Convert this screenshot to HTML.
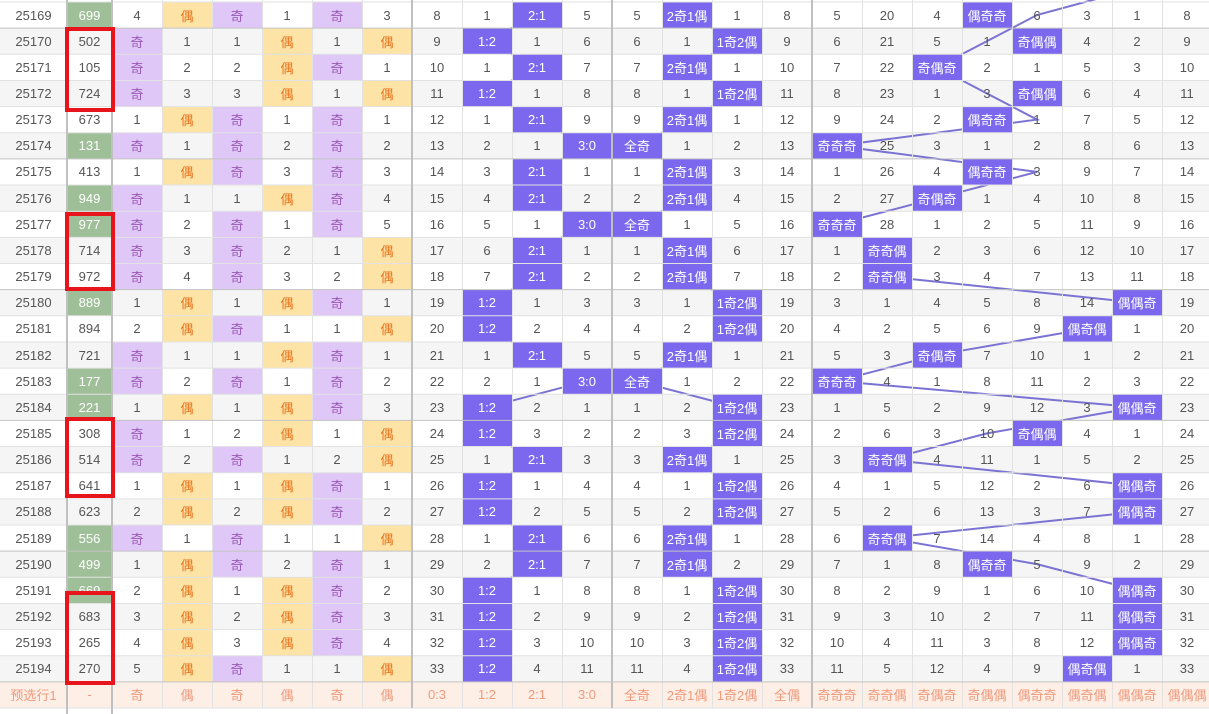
<!DOCTYPE html>
<html><head><meta charset="utf-8"><style>
html,body{margin:0;padding:0;width:1209px;height:714px;overflow:hidden;background:#fff;position:relative;font-family:"Liberation Sans","Noto Sans CJK SC",sans-serif;font-size:13px;color:#555}
.st{position:absolute;left:0;width:1212px;height:26.15px}
.r{position:absolute;left:0;height:26.15px;display:grid;grid-template-columns:67px 45px repeat(22,50px)}
.r>*{display:flex;align-items:center;justify-content:center;font-style:normal;text-decoration:none;font-weight:normal;white-space:nowrap}
.r>b{background:#7b68ee;color:#fff}
.r>u{background:#dfc7f7;color:#9b59b6}
.r>s{background:#fde3a5;color:#e8731c}
.r>.g{background:#9fbf98;color:#fff}
.f>*{color:#f09a7c}
.bx{position:absolute;left:65px;width:50px;border:4px solid #e8141c;box-sizing:border-box}
svg{position:absolute;left:0;top:0}
</style></head><body>
<div class="st" style="top:28.15px;background:#f5f5f5"></div>
<div class="st" style="top:80.45px;background:#f5f5f5"></div>
<div class="st" style="top:132.75px;background:#f5f5f5"></div>
<div class="st" style="top:185.05px;background:#f5f5f5"></div>
<div class="st" style="top:237.35px;background:#f5f5f5"></div>
<div class="st" style="top:289.65px;background:#f5f5f5"></div>
<div class="st" style="top:341.95px;background:#f5f5f5"></div>
<div class="st" style="top:394.25px;background:#f5f5f5"></div>
<div class="st" style="top:446.55px;background:#f5f5f5"></div>
<div class="st" style="top:498.85px;background:#f5f5f5"></div>
<div class="st" style="top:551.15px;background:#f5f5f5"></div>
<div class="st" style="top:603.45px;background:#f5f5f5"></div>
<div class="st" style="top:655.75px;background:#f5f5f5"></div>
<div class="st" style="top:681.9px;background:#fdeee6"></div>
<svg width="1209" height="714" fill="none" stroke="#7b73d3" stroke-width="2">
<polyline points="537,15 487,41.15 537,67.3 487,93.45 537,119.6 587,145.75 537,171.9 537,198.05 587,224.2 537,250.35 537,276.5 487,302.65 487,328.8 537,354.95 587,381.1 487,407.25 487,433.4 537,459.55 487,485.7 487,511.85 537,538 537,564.15 487,590.3 487,616.45 487,642.6 487,668.75"/>
<polyline points="687,15 737,41.15 687,67.3 737,93.45 687,119.6 637,145.75 687,171.9 687,198.05 637,224.2 687,250.35 687,276.5 737,302.65 737,328.8 687,354.95 637,381.1 737,407.25 737,433.4 687,459.55 737,485.7 737,511.85 687,538 687,564.15 737,590.3 737,616.45 737,642.6 737,668.75"/>
<polyline points="1137,-12 1037,15 987,41.15 937,67.3 987,93.45 1037,119.6 837,145.75 1037,171.9 937,198.05 837,224.2 887,250.35 887,276.5 1137,302.65 1087,328.8 937,354.95 837,381.1 1137,407.25 987,433.4 887,459.55 1137,485.7 1137,511.85 887,538 1037,564.15 1137,590.3 1137,616.45 1137,642.6 1087,668.75"/>
</svg>
<div class="r" style="top:2px"><i>25169</i><i class="g">699</i><i>4</i><s>偶</s><u>奇</u><i>1</i><u>奇</u><i>3</i><i>8</i><i>1</i><b>2:1</b><i>5</i><i>5</i><b>2奇1偶</b><i>1</i><i>8</i><i>5</i><i>20</i><i>4</i><b>偶奇奇</b><i>6</i><i>3</i><i>1</i><i>8</i></div>
<div class="r" style="top:28.15px"><i>25170</i><i>502</i><u>奇</u><i>1</i><i>1</i><s>偶</s><i>1</i><s>偶</s><i>9</i><b>1:2</b><i>1</i><i>6</i><i>6</i><i>1</i><b>1奇2偶</b><i>9</i><i>6</i><i>21</i><i>5</i><i>1</i><b>奇偶偶</b><i>4</i><i>2</i><i>9</i></div>
<div class="r" style="top:54.3px"><i>25171</i><i>105</i><u>奇</u><i>2</i><i>2</i><s>偶</s><u>奇</u><i>1</i><i>10</i><i>1</i><b>2:1</b><i>7</i><i>7</i><b>2奇1偶</b><i>1</i><i>10</i><i>7</i><i>22</i><b>奇偶奇</b><i>2</i><i>1</i><i>5</i><i>3</i><i>10</i></div>
<div class="r" style="top:80.45px"><i>25172</i><i>724</i><u>奇</u><i>3</i><i>3</i><s>偶</s><i>1</i><s>偶</s><i>11</i><b>1:2</b><i>1</i><i>8</i><i>8</i><i>1</i><b>1奇2偶</b><i>11</i><i>8</i><i>23</i><i>1</i><i>3</i><b>奇偶偶</b><i>6</i><i>4</i><i>11</i></div>
<div class="r" style="top:106.6px"><i>25173</i><i>673</i><i>1</i><s>偶</s><u>奇</u><i>1</i><u>奇</u><i>1</i><i>12</i><i>1</i><b>2:1</b><i>9</i><i>9</i><b>2奇1偶</b><i>1</i><i>12</i><i>9</i><i>24</i><i>2</i><b>偶奇奇</b><i>1</i><i>7</i><i>5</i><i>12</i></div>
<div class="r" style="top:132.75px"><i>25174</i><i class="g">131</i><u>奇</u><i>1</i><u>奇</u><i>2</i><u>奇</u><i>2</i><i>13</i><i>2</i><i>1</i><b>3:0</b><b>全奇</b><i>1</i><i>2</i><i>13</i><b>奇奇奇</b><i>25</i><i>3</i><i>1</i><i>2</i><i>8</i><i>6</i><i>13</i></div>
<div class="r" style="top:158.9px"><i>25175</i><i>413</i><i>1</i><s>偶</s><u>奇</u><i>3</i><u>奇</u><i>3</i><i>14</i><i>3</i><b>2:1</b><i>1</i><i>1</i><b>2奇1偶</b><i>3</i><i>14</i><i>1</i><i>26</i><i>4</i><b>偶奇奇</b><i>3</i><i>9</i><i>7</i><i>14</i></div>
<div class="r" style="top:185.05px"><i>25176</i><i class="g">949</i><u>奇</u><i>1</i><i>1</i><s>偶</s><u>奇</u><i>4</i><i>15</i><i>4</i><b>2:1</b><i>2</i><i>2</i><b>2奇1偶</b><i>4</i><i>15</i><i>2</i><i>27</i><b>奇偶奇</b><i>1</i><i>4</i><i>10</i><i>8</i><i>15</i></div>
<div class="r" style="top:211.2px"><i>25177</i><i class="g">977</i><u>奇</u><i>2</i><u>奇</u><i>1</i><u>奇</u><i>5</i><i>16</i><i>5</i><i>1</i><b>3:0</b><b>全奇</b><i>1</i><i>5</i><i>16</i><b>奇奇奇</b><i>28</i><i>1</i><i>2</i><i>5</i><i>11</i><i>9</i><i>16</i></div>
<div class="r" style="top:237.35px"><i>25178</i><i>714</i><u>奇</u><i>3</i><u>奇</u><i>2</i><i>1</i><s>偶</s><i>17</i><i>6</i><b>2:1</b><i>1</i><i>1</i><b>2奇1偶</b><i>6</i><i>17</i><i>1</i><b>奇奇偶</b><i>2</i><i>3</i><i>6</i><i>12</i><i>10</i><i>17</i></div>
<div class="r" style="top:263.5px"><i>25179</i><i>972</i><u>奇</u><i>4</i><u>奇</u><i>3</i><i>2</i><s>偶</s><i>18</i><i>7</i><b>2:1</b><i>2</i><i>2</i><b>2奇1偶</b><i>7</i><i>18</i><i>2</i><b>奇奇偶</b><i>3</i><i>4</i><i>7</i><i>13</i><i>11</i><i>18</i></div>
<div class="r" style="top:289.65px"><i>25180</i><i class="g">889</i><i>1</i><s>偶</s><i>1</i><s>偶</s><u>奇</u><i>1</i><i>19</i><b>1:2</b><i>1</i><i>3</i><i>3</i><i>1</i><b>1奇2偶</b><i>19</i><i>3</i><i>1</i><i>4</i><i>5</i><i>8</i><i>14</i><b>偶偶奇</b><i>19</i></div>
<div class="r" style="top:315.8px"><i>25181</i><i>894</i><i>2</i><s>偶</s><u>奇</u><i>1</i><i>1</i><s>偶</s><i>20</i><b>1:2</b><i>2</i><i>4</i><i>4</i><i>2</i><b>1奇2偶</b><i>20</i><i>4</i><i>2</i><i>5</i><i>6</i><i>9</i><b>偶奇偶</b><i>1</i><i>20</i></div>
<div class="r" style="top:341.95px"><i>25182</i><i>721</i><u>奇</u><i>1</i><i>1</i><s>偶</s><u>奇</u><i>1</i><i>21</i><i>1</i><b>2:1</b><i>5</i><i>5</i><b>2奇1偶</b><i>1</i><i>21</i><i>5</i><i>3</i><b>奇偶奇</b><i>7</i><i>10</i><i>1</i><i>2</i><i>21</i></div>
<div class="r" style="top:368.1px"><i>25183</i><i class="g">177</i><u>奇</u><i>2</i><u>奇</u><i>1</i><u>奇</u><i>2</i><i>22</i><i>2</i><i>1</i><b>3:0</b><b>全奇</b><i>1</i><i>2</i><i>22</i><b>奇奇奇</b><i>4</i><i>1</i><i>8</i><i>11</i><i>2</i><i>3</i><i>22</i></div>
<div class="r" style="top:394.25px"><i>25184</i><i class="g">221</i><i>1</i><s>偶</s><i>1</i><s>偶</s><u>奇</u><i>3</i><i>23</i><b>1:2</b><i>2</i><i>1</i><i>1</i><i>2</i><b>1奇2偶</b><i>23</i><i>1</i><i>5</i><i>2</i><i>9</i><i>12</i><i>3</i><b>偶偶奇</b><i>23</i></div>
<div class="r" style="top:420.4px"><i>25185</i><i>308</i><u>奇</u><i>1</i><i>2</i><s>偶</s><i>1</i><s>偶</s><i>24</i><b>1:2</b><i>3</i><i>2</i><i>2</i><i>3</i><b>1奇2偶</b><i>24</i><i>2</i><i>6</i><i>3</i><i>10</i><b>奇偶偶</b><i>4</i><i>1</i><i>24</i></div>
<div class="r" style="top:446.55px"><i>25186</i><i>514</i><u>奇</u><i>2</i><u>奇</u><i>1</i><i>2</i><s>偶</s><i>25</i><i>1</i><b>2:1</b><i>3</i><i>3</i><b>2奇1偶</b><i>1</i><i>25</i><i>3</i><b>奇奇偶</b><i>4</i><i>11</i><i>1</i><i>5</i><i>2</i><i>25</i></div>
<div class="r" style="top:472.7px"><i>25187</i><i>641</i><i>1</i><s>偶</s><i>1</i><s>偶</s><u>奇</u><i>1</i><i>26</i><b>1:2</b><i>1</i><i>4</i><i>4</i><i>1</i><b>1奇2偶</b><i>26</i><i>4</i><i>1</i><i>5</i><i>12</i><i>2</i><i>6</i><b>偶偶奇</b><i>26</i></div>
<div class="r" style="top:498.85px"><i>25188</i><i>623</i><i>2</i><s>偶</s><i>2</i><s>偶</s><u>奇</u><i>2</i><i>27</i><b>1:2</b><i>2</i><i>5</i><i>5</i><i>2</i><b>1奇2偶</b><i>27</i><i>5</i><i>2</i><i>6</i><i>13</i><i>3</i><i>7</i><b>偶偶奇</b><i>27</i></div>
<div class="r" style="top:525px"><i>25189</i><i class="g">556</i><u>奇</u><i>1</i><u>奇</u><i>1</i><i>1</i><s>偶</s><i>28</i><i>1</i><b>2:1</b><i>6</i><i>6</i><b>2奇1偶</b><i>1</i><i>28</i><i>6</i><b>奇奇偶</b><i>7</i><i>14</i><i>4</i><i>8</i><i>1</i><i>28</i></div>
<div class="r" style="top:551.15px"><i>25190</i><i class="g">499</i><i>1</i><s>偶</s><u>奇</u><i>2</i><u>奇</u><i>1</i><i>29</i><i>2</i><b>2:1</b><i>7</i><i>7</i><b>2奇1偶</b><i>2</i><i>29</i><i>7</i><i>1</i><i>8</i><b>偶奇奇</b><i>5</i><i>9</i><i>2</i><i>29</i></div>
<div class="r" style="top:577.3px"><i>25191</i><i class="g">669</i><i>2</i><s>偶</s><i>1</i><s>偶</s><u>奇</u><i>2</i><i>30</i><b>1:2</b><i>1</i><i>8</i><i>8</i><i>1</i><b>1奇2偶</b><i>30</i><i>8</i><i>2</i><i>9</i><i>1</i><i>6</i><i>10</i><b>偶偶奇</b><i>30</i></div>
<div class="r" style="top:603.45px"><i>25192</i><i>683</i><i>3</i><s>偶</s><i>2</i><s>偶</s><u>奇</u><i>3</i><i>31</i><b>1:2</b><i>2</i><i>9</i><i>9</i><i>2</i><b>1奇2偶</b><i>31</i><i>9</i><i>3</i><i>10</i><i>2</i><i>7</i><i>11</i><b>偶偶奇</b><i>31</i></div>
<div class="r" style="top:629.6px"><i>25193</i><i>265</i><i>4</i><s>偶</s><i>3</i><s>偶</s><u>奇</u><i>4</i><i>32</i><b>1:2</b><i>3</i><i>10</i><i>10</i><i>3</i><b>1奇2偶</b><i>32</i><i>10</i><i>4</i><i>11</i><i>3</i><i>8</i><i>12</i><b>偶偶奇</b><i>32</i></div>
<div class="r" style="top:655.75px"><i>25194</i><i>270</i><i>5</i><s>偶</s><u>奇</u><i>1</i><i>1</i><s>偶</s><i>33</i><b>1:2</b><i>4</i><i>11</i><i>11</i><i>4</i><b>1奇2偶</b><i>33</i><i>11</i><i>5</i><i>12</i><i>4</i><i>9</i><b>偶奇偶</b><i>1</i><i>33</i></div>
<div class="r f" style="top:681.9px"><i>预选行1</i><i>-</i><i>奇</i><i>偶</i><i>奇</i><i>偶</i><i>奇</i><i>偶</i><i>0:3</i><i>1:2</i><i>2:1</i><i>3:0</i><i>全奇</i><i>2奇1偶</i><i>1奇2偶</i><i>全偶</i><i>奇奇奇</i><i>奇奇偶</i><i>奇偶奇</i><i>奇偶偶</i><i>偶奇奇</i><i>偶奇偶</i><i>偶偶奇</i><i>偶偶偶</i></div>
<svg width="1209" height="714" fill="none" stroke="#e2e2e2" stroke-width="1">
<path d="M0 2H1212M0 54.3H1212M0 80.45H1212M0 106.6H1212M0 132.75H1212M0 185.05H1212M0 211.2H1212M0 237.35H1212M0 263.5H1212M0 315.8H1212M0 341.95H1212M0 368.1H1212M0 394.25H1212M0 446.55H1212M0 472.7H1212M0 498.85H1212M0 525H1212M0 577.3H1212M0 603.45H1212M0 629.6H1212M0 655.75H1212M0 708H1212"/>
<path d="M162.5 0V708M212.5 0V708M262.5 0V708M312.5 0V708M362.5 0V708M462.5 0V708M512.5 0V708M562.5 0V708M662.5 0V708M712.5 0V708M762.5 0V708M862.5 0V708M912.5 0V708M962.5 0V708M1012.5 0V708M1062.5 0V708M1112.5 0V708M1162.5 0V708"/>
<path stroke="#c4c4c4" d="M0 28.15H1212M0 158.9H1212M0 289.65H1212M0 420.4H1212M0 551.15H1212M0 681.9H1212"/>
<path stroke="#c0c0c0" stroke-width="2" d="M67 0V714M112 0V714M412 0V708M612 0V708M812 0V708"/>
</svg>
<div class="bx" style="top:27px;height:85px"></div>
<div class="bx" style="top:212px;height:79px"></div>
<div class="bx" style="top:417px;height:81px"></div>
<div class="bx" style="top:591px;height:94px"></div>
</body></html>
